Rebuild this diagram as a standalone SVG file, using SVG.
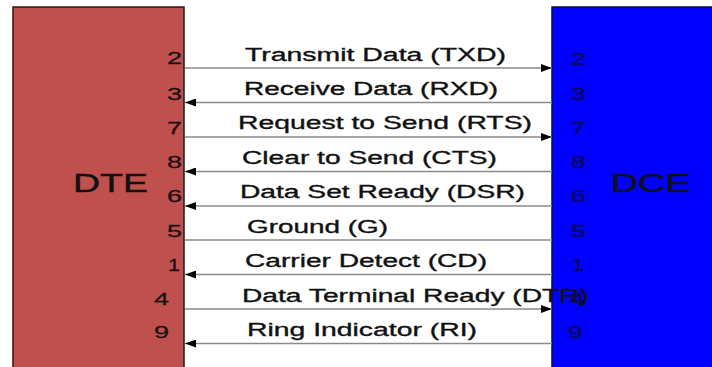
<svg xmlns="http://www.w3.org/2000/svg" width="712" height="367" viewBox="0 0 712 367">
<style>
.lbl{font-family:"Liberation Sans",Arial,sans-serif;font-size:18px;fill:#111;stroke:#111;stroke-width:0.35;}
.pin{font-family:"Liberation Sans",Arial,sans-serif;font-size:17px;fill:#1a1010;stroke:#1a1010;stroke-width:0.3;}
.pinb{font-family:"Liberation Sans",Arial,sans-serif;font-size:17px;fill:#0a0a55;stroke:#0a0a55;stroke-width:0.3;}
.big{font-family:"Liberation Sans",Arial,sans-serif;font-size:25px;fill:#111;stroke:#111;stroke-width:0.4;}
.wire{stroke:#8a8a8a;stroke-width:1.5;fill:none;}
</style>
<defs>
<marker id="ah" viewBox="0 0 11 8" refX="11" refY="4" markerWidth="11" markerHeight="8" markerUnits="userSpaceOnUse" orient="auto">
<path d="M0,0 L11,4 L0,8 Z" fill="#000"/>
</marker>
</defs>
<rect width="712" height="367" fill="#fff"/>
<g id="DTE">
<rect x="13" y="7" width="171" height="362" fill="#c0504d" stroke="#2a1616" stroke-width="1.5"/>
<text class="big" x="73" y="192" textLength="75" lengthAdjust="spacingAndGlyphs">DTE</text>
<text class="pin" x="167" y="64" textLength="15" lengthAdjust="spacingAndGlyphs">2</text>
<text class="pin" x="167" y="100" textLength="15" lengthAdjust="spacingAndGlyphs">3</text>
<text class="pin" x="167" y="134" textLength="15" lengthAdjust="spacingAndGlyphs">7</text>
<text class="pin" x="167" y="168" textLength="15" lengthAdjust="spacingAndGlyphs">8</text>
<text class="pin" x="167" y="202" textLength="15" lengthAdjust="spacingAndGlyphs">6</text>
<text class="pin" x="167" y="237" textLength="15" lengthAdjust="spacingAndGlyphs">5</text>
<text class="pin" x="168" y="271" textLength="12" lengthAdjust="spacingAndGlyphs">1</text>
<text class="pin" x="154" y="305" textLength="15" lengthAdjust="spacingAndGlyphs">4</text>
<text class="pin" x="154" y="338" textLength="15" lengthAdjust="spacingAndGlyphs">9</text>
</g>
<g id="DCE">
<rect x="552" y="7" width="170" height="362" fill="#0000ff" stroke="#111" stroke-width="1.5"/>
<text class="big" x="611" y="192" textLength="80" lengthAdjust="spacingAndGlyphs">DCE</text>
<text class="pinb" x="571" y="65" textLength="15" lengthAdjust="spacingAndGlyphs">2</text>
<text class="pinb" x="571" y="100" textLength="15" lengthAdjust="spacingAndGlyphs">3</text>
<text class="pinb" x="571" y="134" textLength="15" lengthAdjust="spacingAndGlyphs">7</text>
<text class="pinb" x="571" y="168" textLength="15" lengthAdjust="spacingAndGlyphs">8</text>
<text class="pinb" x="571" y="202" textLength="15" lengthAdjust="spacingAndGlyphs">6</text>
<text class="pinb" x="571" y="237" textLength="15" lengthAdjust="spacingAndGlyphs">5</text>
<text class="pinb" x="572" y="271" textLength="12" lengthAdjust="spacingAndGlyphs">1</text>
<text class="pinb" x="570" y="305" textLength="15" lengthAdjust="spacingAndGlyphs">4</text>
<text class="pinb" x="568" y="338" textLength="15" lengthAdjust="spacingAndGlyphs">9</text>
</g>
<g id="connectors">
<line class="wire" x1="185" y1="68" x2="552" y2="68" marker-end="url(#ah)"/>
<line class="wire" x1="552" y1="102.5" x2="185" y2="102.5" marker-end="url(#ah)"/>
<line class="wire" x1="185" y1="137" x2="552" y2="137" marker-end="url(#ah)"/>
<line class="wire" x1="552" y1="171.5" x2="185" y2="171.5" marker-end="url(#ah)"/>
<line class="wire" x1="552" y1="206" x2="185" y2="206" marker-end="url(#ah)"/>
<line class="wire" x1="185" y1="240" x2="552" y2="240"/>
<line class="wire" x1="552" y1="274.5" x2="185" y2="274.5" marker-end="url(#ah)"/>
<line class="wire" x1="185" y1="309" x2="552" y2="309" marker-end="url(#ah)"/>
<line class="wire" x1="552" y1="343.5" x2="185" y2="343.5" marker-end="url(#ah)"/>
</g>
<g id="labels">
<text class="lbl" x="245" y="61" textLength="261" lengthAdjust="spacingAndGlyphs">Transmit Data (TXD)</text>
<text class="lbl" x="244" y="95" textLength="254" lengthAdjust="spacingAndGlyphs">Receive Data (RXD)</text>
<text class="lbl" x="238" y="129" textLength="294" lengthAdjust="spacingAndGlyphs">Request to Send (RTS)</text>
<text class="lbl" x="242" y="164" textLength="255" lengthAdjust="spacingAndGlyphs">Clear to Send (CTS)</text>
<text class="lbl" x="240" y="198" textLength="285" lengthAdjust="spacingAndGlyphs">Data Set Ready (DSR)</text>
<text class="lbl" x="247" y="233" textLength="141" lengthAdjust="spacingAndGlyphs">Ground (G)</text>
<text class="lbl" x="245" y="267" textLength="242" lengthAdjust="spacingAndGlyphs">Carrier Detect (CD)</text>
<text class="lbl" x="242" y="302" textLength="347" lengthAdjust="spacingAndGlyphs">Data Terminal Ready (DTR)</text>
<text class="lbl" x="247" y="336" textLength="230" lengthAdjust="spacingAndGlyphs">Ring Indicator (RI)</text>
</g>
</svg>
